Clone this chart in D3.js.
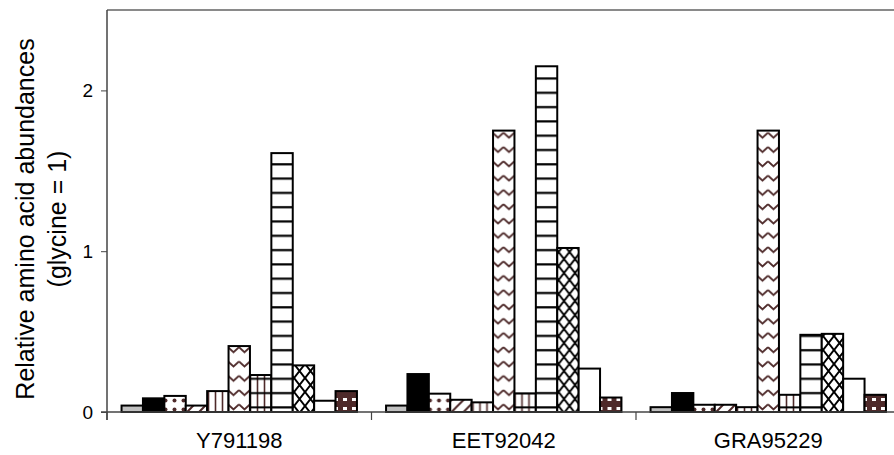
<!DOCTYPE html>
<html>
<head>
<meta charset="utf-8">
<script src="https://cdn.jsdelivr.net/npm/d3@7"></script>
<style>
  body { margin: 0; background: #fff; }
  text { font-family: "Liberation Sans", Arial, sans-serif; fill: #000; }
</style>
</head>
<body>
<script>
// meteorites (groups) and the eleven amino acid series, glycine = 1
var groups = ["Y791198", "EET92042", "GRA95229"];
var seriesKeys = ["s1", "s2", "s3", "s4", "s5", "s6", "s7", "s8", "s9", "s10", "s11"];
var y791198  = [0.04, 0.085, 0.10, 0.04, 0.13, 0.41, 0.23, 1.61, 0.29, 0.07, 0.13];
var eet92042 = [0.04, 0.236, 0.114, 0.076, 0.06, 1.75, 0.116, 2.15, 1.02, 0.27, 0.09];
var gra95229 = [0.03, 0.118, 0.045, 0.045, 0.03, 1.75, 0.107, 0.48, 0.486, 0.207, 0.107];
var yTicks = [0, 1, 2];

var values = [y791198, eet92042, gra95229];

var width = 894, height = 455;
var margin = {top: 10, left: 107, bottom: 43};
var brown = "#4e2a2a";

var svg = d3.select("body").append("svg")
    .attr("width", width)
    .attr("height", height);

// fill patterns for the series
var defs = svg.append("defs");
function pat(id, w, h) {
  return defs.append("pattern").attr("id", id)
    .attr("patternUnits", "userSpaceOnUse")
    .attr("width", w).attr("height", h);
}
var p;
p = pat("dots", 9, 9);
p.append("rect").attr("width", 9).attr("height", 9).attr("fill", "#fff");
p.append("circle").attr("cx", 4.5).attr("cy", 4.5).attr("r", 2).attr("fill", brown);

p = pat("diag", 12, 12);
p.append("rect").attr("width", 12).attr("height", 12).attr("fill", "#fff");
p.append("path").attr("d", "M0,12L12,0M-3,3L3,-3M9,15L15,9").attr("stroke", brown).attr("stroke-width", 2);

p = pat("vert", 7, 7);
p.append("rect").attr("width", 7).attr("height", 7).attr("fill", "#fff");
p.append("path").attr("d", "M3.5,0V7").attr("stroke", brown).attr("stroke-width", 1.6);

p = pat("zig", 11, 14.3);
p.append("rect").attr("width", 11).attr("height", 14.3).attr("fill", "#fff");
p.append("path").attr("d", "M0,4L5.5,9L11,4").attr("fill", "none").attr("stroke", brown).attr("stroke-width", 2);

p = pat("grid", 7, 14.3);
p.append("rect").attr("width", 7).attr("height", 14.3).attr("fill", "#fff");
p.append("path").attr("d", "M3.5,0V14.3").attr("stroke", brown).attr("stroke-width", 1.6);
p.append("path").attr("d", "M0,7H7").attr("stroke", "#000").attr("stroke-width", 2);

p = pat("horiz", 10, 14.3);
p.append("rect").attr("width", 10).attr("height", 14.3).attr("fill", "#fff");
p.append("path").attr("d", "M0,7H10").attr("stroke", "#000").attr("stroke-width", 2.2);

p = pat("cross", 11, 14);
p.append("rect").attr("width", 11).attr("height", 14).attr("fill", "#fff");
p.append("path").attr("d", "M0,0L11,14M11,0L0,14").attr("stroke", "#000").attr("stroke-width", 2);

p = pat("brick", 9, 9);
p.append("rect").attr("width", 9).attr("height", 9).attr("fill", brown);
p.append("rect").attr("x", 2).attr("y", 2).attr("width", 4).attr("height", 3).attr("fill", "#fff");

var fills = ["#c0c0c0", "#000", "url(#dots)", "url(#diag)", "url(#vert)", "url(#zig)",
             "url(#grid)", "url(#horiz)", "url(#cross)", "#fff", "url(#brick)"];

// scales
var x0 = d3.scaleBand().domain(groups).range([margin.left, 900.5]);
var x1 = d3.scaleBand().domain(seriesKeys).range([0, x0.bandwidth()]).paddingOuter(0.68);
var y = d3.scaleLinear().domain([0, 2.5]).range([height - margin.bottom, margin.top]);

// top frame line
svg.append("line")
    .attr("x1", margin.left).attr("x2", width)
    .attr("y1", y(2.5)).attr("y2", y(2.5))
    .attr("stroke", "#8a8a8a").attr("stroke-width", 2);

// bars
var g = svg.selectAll(".grp")
    .data(groups)
    .enter().append("g")
    .attr("class", "grp")
    .attr("transform", function (d) { return "translate(" + x0(d) + ",0)"; });

g.selectAll("rect")
    .data(function (d, i) {
      return values[i].map(function (v, j) { return {key: seriesKeys[j], value: v, idx: j}; });
    })
    .enter().append("rect")
    .attr("x", function (d) { return x1(d.key); })
    .attr("y", function (d) { return y(d.value); })
    .attr("width", x1.bandwidth())
    .attr("height", function (d) { return y(0) - y(d.value); })
    .attr("fill", function (d) { return fills[d.idx]; })
    .attr("stroke", "#000")
    .attr("stroke-width", 2);

// y axis
var yAxis = svg.append("g")
    .attr("transform", "translate(" + margin.left + ",0)")
    .call(d3.axisLeft(y).tickValues(yTicks).tickFormat(d3.format("d")).tickSize(6).tickSizeOuter(0));
yAxis.select(".domain").remove();
yAxis.append("line")
    .attr("y1", y(2.5)).attr("y2", y(0) + 8)
    .attr("stroke", "#444").attr("stroke-width", 1.5);
yAxis.selectAll(".tick line").attr("stroke", "#444");
yAxis.selectAll(".tick text")
    .attr("x", -14)
    .style("font-size", "19px")
    .style("font-family", "Liberation Sans, Arial, sans-serif");

// x axis baseline with group separators
var xAxis = svg.append("g")
    .attr("transform", "translate(0," + y(0) + ")");
xAxis.append("line")
    .attr("x1", margin.left - 6).attr("x2", width)
    .attr("stroke", "#444").attr("stroke-width", 1.5);
xAxis.selectAll(".sep")
    .data(groups)
    .enter().append("line")
    .attr("class", "sep")
    .attr("x1", function (d) { return x0(d); })
    .attr("x2", function (d) { return x0(d); })
    .attr("y1", 0).attr("y2", 8)
    .attr("stroke", "#444").attr("stroke-width", 1.2);
xAxis.selectAll(".lbl")
    .data(groups)
    .enter().append("text")
    .attr("class", "lbl")
    .attr("x", function (d) { return x0(d) + x0.bandwidth() / 2; })
    .attr("y", 36)
    .attr("text-anchor", "middle")
    .style("font-size", "22px")
    .text(function (d) { return d; });

// y axis title
var title = svg.append("text")
    .attr("transform", "translate(25,219) rotate(-90)")
    .attr("text-anchor", "middle")
    .style("font-size", "25px");
title.append("tspan").attr("x", 0).attr("dy", "0.35em").text("Relative amino acid abundances");
title.append("tspan").attr("x", 0).attr("dy", "1.28em").text("(glycine = 1)");
</script>
</body>
</html>
